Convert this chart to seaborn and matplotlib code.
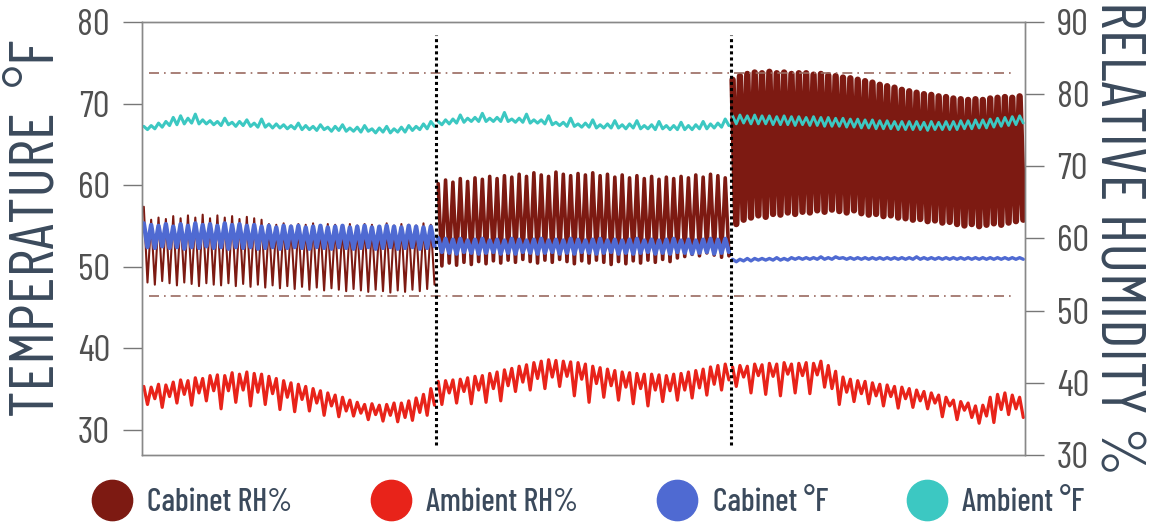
import numpy as np
import pandas as pd
import seaborn as sns
import matplotlib.pyplot as plt
from matplotlib.lines import Line2D

# three test periods, each read as 40 swing cycles (upper / lower value per cycle)
n_per_section = 40

# Cabinet RH %  (right axis)
cab_rh_hi = [64.4, 62.6, 62.9, 62.7, 63.1, 62.8, 63.2, 62.9, 63.3, 62.8,
             63.2, 62.9, 63.1, 62.7, 63.0, 62.8, 62.6, 62.0, 61.9, 62.1,
             61.8, 62.0, 61.9, 62.1, 61.8, 62.0, 61.9, 61.7, 62.0, 61.8,
             62.0, 61.9, 61.7, 62.1, 61.8, 62.0, 61.9, 61.8, 62.1, 61.9,
             67.6, 68.1, 67.8, 68.3, 67.9, 68.4, 68.2, 68.6, 68.3, 68.7,
             68.5, 68.9, 68.6, 69.1, 68.8, 68.6, 69.2, 68.9, 68.7, 69.0,
             68.8, 69.1, 68.7, 68.9, 68.5, 68.8, 68.4, 68.7, 68.3, 68.6,
             68.2, 68.5, 68.3, 68.6, 68.4, 68.8, 68.5, 68.9, 68.7, 68.4,
             82.0, 82.5, 82.8, 83.0, 82.9, 83.1, 82.9, 83.0, 82.8, 82.9,
             82.9, 82.7, 82.8, 82.6, 82.5, 82.3, 82.2, 82.0, 81.8, 81.6,
             81.3, 81.1, 80.9, 80.6, 80.4, 80.2, 80.0, 79.9, 79.7, 79.6,
             79.4, 79.3, 79.2, 79.3, 79.2, 79.4, 79.5, 79.6, 79.5, 79.7]
cab_rh_lo = [53.9, 53.6, 54.1, 53.8, 53.5, 53.9, 53.7, 53.4, 53.8, 53.6,
             53.5, 53.8, 53.4, 53.7, 53.3, 53.6, 53.2, 53.5, 53.1, 53.4,
             53.0, 53.3, 52.9, 53.2, 52.8, 53.1, 52.9, 52.7, 53.0, 52.8,
             52.6, 52.9, 52.7, 52.5, 52.8, 52.6, 52.9, 52.7, 53.0, 53.6,
             56.2, 56.6, 56.3, 56.7, 56.4, 56.8, 56.5, 56.9, 56.6, 57.0,
             56.7, 57.1, 56.8, 56.6, 57.0, 56.7, 57.1, 56.8, 56.5, 56.9,
             56.6, 57.0, 56.7, 56.4, 56.8, 56.5, 56.9, 56.6, 57.0, 56.7,
             57.1, 56.8, 57.3, 57.5, 57.8, 57.6, 58.0, 57.7, 57.4, 57.6,
             62.0, 62.6, 62.9, 63.2, 63.0, 63.4, 63.3, 63.6, 63.4, 63.7,
             63.6, 63.9, 63.7, 64.0, 63.8, 63.6, 63.9, 63.5, 63.3, 63.4,
             63.1, 63.2, 62.9, 62.8, 62.6, 62.7, 62.4, 62.5, 62.2, 62.3,
             62.0, 61.8, 62.0, 61.7, 61.9, 62.1, 61.9, 62.2, 62.4, 62.6]

# Ambient RH %  (right axis)
amb_rh_hi = [39.5, 39.4, 39.8, 39.7, 40.1, 40.4, 40.3, 40.7, 40.6, 41.0,
             41.1, 41.0, 41.4, 41.2, 41.5, 41.3, 41.2, 40.9, 40.6, 40.3,
             40.0, 39.8, 39.5, 39.2, 38.9, 38.6, 38.3, 38.0, 37.6, 37.3,
             37.0, 37.1, 36.9, 37.0, 37.2, 37.2, 37.5, 37.9, 38.4, 39.2,
             40.2, 40.3, 40.4, 40.5, 40.7, 40.9, 41.0, 41.3, 41.5, 41.8,
             42.0, 42.3, 42.5, 42.8, 43.0, 43.2, 43.1, 43.0, 42.9, 42.8,
             42.6, 42.3, 42.1, 41.9, 41.7, 41.5, 41.4, 41.3, 41.2, 41.2,
             41.1, 41.0, 41.2, 41.3, 41.5, 41.7, 41.9, 42.2, 42.4, 42.6,
             42.2, 42.4, 42.3, 42.6, 42.5, 42.7, 42.6, 42.8, 42.6, 42.7,
             42.8, 42.7, 43.0, 42.4, 41.6, 40.8, 40.5, 40.3, 40.2, 40.0,
             39.8, 39.7, 39.5, 39.4, 39.2, 39.0, 38.8, 38.6, 38.3, 38.0,
             37.6, 37.4, 37.2, 36.8, 36.9, 38.0, 38.4, 38.6, 38.3, 38.0]
amb_rh_lo = [37.0, 37.8, 36.6, 38.1, 37.2, 38.4, 36.9, 38.6, 37.5, 38.9,
             36.4, 38.9, 37.3, 39.0, 36.8, 38.7, 37.0, 38.5, 36.3, 38.0,
             36.0, 37.7, 36.1, 37.2, 35.5, 36.8, 35.3, 36.1, 35.4, 35.8,
             34.9, 35.6, 34.7, 35.5, 34.6, 35.2, 34.8, 35.9, 35.5, 36.9,
             37.0, 38.6, 37.2, 38.8, 37.1, 39.0, 37.3, 39.2, 37.5, 39.6,
             38.8, 40.1, 39.0, 40.6, 39.2, 40.8, 39.5, 40.9, 38.2, 40.5,
             37.3, 39.9, 38.0, 39.6, 37.6, 39.4, 37.1, 39.2, 36.8, 39.0,
             37.4, 38.9, 37.6, 39.0, 37.9, 39.3, 38.3, 39.8, 39.0, 40.4,
             39.5, 40.8, 38.6, 41.0, 38.4, 40.9, 38.2, 41.2, 38.6, 41.0,
             38.5, 41.1, 39.4, 39.2, 37.0, 38.7, 37.4, 38.5, 37.1, 38.2,
             36.8, 38.1, 36.5, 37.8, 36.6, 37.5, 36.4, 37.2, 35.3, 36.8,
             34.9, 36.2, 35.2, 34.4, 35.4, 34.5, 36.3, 35.6, 36.4, 35.2]

# Cabinet deg F  (left axis)
cab_f_hi = [55.3, 55.1, 55.0, 55.2, 54.9, 55.2, 55.0, 55.3, 55.1, 55.2,
            55.0, 55.3, 55.1, 55.2, 55.0, 55.1, 54.9, 55.0, 54.8, 55.0,
            54.9, 55.0, 54.8, 54.9, 55.0, 54.8, 54.9, 55.0, 54.8, 54.9,
            55.0, 54.8, 54.9, 55.0, 54.9, 54.8, 55.0, 54.9, 54.8, 54.9,
            53.5, 53.4, 53.3, 53.4, 53.2, 53.3, 53.4, 53.2, 53.3, 53.2,
            53.4, 53.3, 53.2, 53.3, 53.4, 53.2, 53.3, 53.2, 53.4, 53.3,
            53.2, 53.3, 53.4, 53.2, 53.3, 53.2, 53.3, 53.4, 53.2, 53.3,
            53.2, 53.3, 53.4, 53.2, 53.3, 53.2, 53.3, 53.4, 53.3, 53.4,
            50.9, 50.9, 51.0, 51.0, 51.0, 51.0, 51.1, 51.0, 51.1, 51.1,
            51.1, 51.1, 51.2, 51.1, 51.2, 51.1, 51.1, 51.1, 51.1, 51.1,
            51.1, 51.1, 51.1, 51.1, 51.1, 51.2, 51.1, 51.1, 51.1, 51.1,
            51.1, 51.1, 51.1, 51.1, 51.1, 51.1, 51.1, 51.1, 51.1, 51.1]
cab_f_lo = [52.4, 52.3, 52.5, 52.3, 52.4, 52.2, 52.4, 52.3, 52.5, 52.3,
            52.4, 52.2, 52.4, 52.3, 52.4, 52.2, 52.3, 52.4, 52.2, 52.3,
            52.4, 52.3, 52.2, 52.4, 52.3, 52.2, 52.4, 52.3, 52.2, 52.3,
            52.4, 52.2, 52.3, 52.4, 52.2, 52.3, 52.4, 52.2, 52.3, 52.5,
            51.8, 51.7, 51.6, 51.8, 51.7, 51.6, 51.7, 51.8, 51.6, 51.7,
            51.6, 51.8, 51.7, 51.6, 51.7, 51.8, 51.6, 51.7, 51.6, 51.8,
            51.7, 51.6, 51.7, 51.8, 51.6, 51.7, 51.6, 51.7, 51.8, 51.6,
            51.7, 51.6, 51.8, 51.7, 51.6, 51.7, 51.8, 51.6, 51.7, 51.8,
            50.6, 50.7, 50.7, 50.8, 50.8, 50.8, 50.8, 50.8, 50.9, 50.9,
            50.9, 50.9, 50.9, 50.9, 51.0, 50.9, 50.9, 50.9, 50.9, 50.9,
            50.9, 50.9, 50.9, 50.9, 50.9, 50.9, 50.9, 50.9, 50.9, 50.9,
            50.9, 50.9, 50.9, 50.9, 50.9, 50.9, 50.9, 50.9, 50.9, 50.9]

# Ambient deg F  (left axis)
amb_f_hi = [67.2, 67.3, 67.6, 67.8, 68.3, 68.5, 68.2, 68.7, 68.0, 67.9,
            67.8, 68.2, 67.7, 67.8, 68.0, 67.6, 68.1, 67.5, 67.5, 67.4,
            67.3, 67.6, 67.3, 67.2, 67.4, 67.1, 67.2, 67.4, 67.0, 67.1,
            67.3, 66.9, 67.0, 67.2, 66.9, 67.1, 67.3, 67.2, 67.5, 67.8,
            67.8, 68.0, 68.1, 68.6, 68.2, 68.3, 68.8, 68.2, 68.3, 68.9,
            68.1, 68.2, 68.7, 68.0, 68.0, 68.5, 67.7, 67.7, 68.2, 67.5,
            67.6, 68.0, 67.4, 67.5, 67.9, 67.4, 67.5, 67.9, 67.3, 67.4,
            67.8, 67.3, 67.3, 67.7, 67.3, 67.4, 67.8, 67.5, 67.6, 68.1,
            68.5, 68.6, 68.5, 68.6, 68.5, 68.5, 68.4, 68.5, 68.4, 68.4,
            68.3, 68.4, 68.3, 68.3, 68.2, 68.2, 68.1, 68.1, 68.0, 68.0,
            67.9, 67.9, 67.8, 67.8, 67.8, 67.8, 67.7, 67.8, 67.7, 67.8,
            67.8, 67.9, 67.9, 68.0, 68.0, 68.1, 68.2, 68.3, 68.4, 68.5]
amb_f_lo = [66.8, 66.9, 67.1, 67.3, 67.4, 67.5, 67.6, 67.5, 67.5, 67.4,
            67.3, 67.4, 67.2, 67.3, 67.2, 67.1, 67.1, 67.0, 67.0, 66.9,
            66.9, 66.8, 66.8, 66.7, 66.8, 66.6, 66.7, 66.6, 66.6, 66.5,
            66.6, 66.4, 66.5, 66.4, 66.5, 66.5, 66.7, 66.8, 66.9, 67.2,
            67.4, 67.5, 67.6, 67.7, 67.8, 67.8, 67.8, 67.8, 67.8, 67.8,
            67.7, 67.7, 67.6, 67.6, 67.5, 67.4, 67.3, 67.2, 67.2, 67.1,
            67.1, 67.0, 67.0, 67.0, 67.0, 66.9, 67.0, 66.9, 66.9, 66.8,
            66.9, 66.8, 66.8, 66.8, 66.8, 66.9, 66.9, 67.0, 67.1, 67.3,
            67.5, 67.6, 67.5, 67.5, 67.5, 67.4, 67.4, 67.4, 67.3, 67.4,
            67.3, 67.3, 67.2, 67.2, 67.2, 67.1, 67.1, 67.0, 67.0, 66.9,
            66.9, 66.9, 66.8, 66.8, 66.8, 66.8, 66.7, 66.8, 66.8, 66.8,
            66.8, 66.9, 66.9, 67.0, 67.0, 67.1, 67.2, 67.3, 67.4, 67.6]

# RH limits drawn as dash-dot guide lines
rh_limits = [83.0, 52.0]

labels = ['Cabinet RH%', 'Ambient RH%', 'Cabinet °F', 'Ambient °F']
colors = ['#7d1a12', '#e8231a', '#4f6ad2', '#3cc8c2']


def swing(hi, lo):
    # each cycle: upper reading then lower reading
    return np.column_stack((hi, lo)).ravel()


n = len(cab_rh_hi) * 2
t = np.arange(n)
sec = t // (2 * n_per_section) + 1
rh = pd.DataFrame({'t': t, 'sec': sec, 'cab': swing(cab_rh_hi, cab_rh_lo), 'amb': swing(amb_rh_hi, amb_rh_lo)})
temp = pd.DataFrame({'t': t, 'sec': sec, 'cab': swing(cab_f_hi, cab_f_lo), 'amb': swing(amb_f_hi, amb_f_lo)})

sns.set_style('white')
plt.rcParams['font.family'] = ['Barlow Condensed', 'Roboto Condensed', 'DejaVu Sans']

fig = plt.figure(figsize=(11.56, 5.26), dpi=100)
ax = fig.add_axes([0.1228, 0.135, 0.764, 0.8232])
ax2 = ax.twinx()
ax.set_zorder(ax2.get_zorder() + 1)
ax.patch.set_visible(False)


def draw(df, col, axis, color, widths):
    sns.lineplot(data=df, x='t', y=col, hue='sec', size='sec', ax=axis,
                 palette={1: color, 2: color, 3: color},
                 sizes={1: widths[0], 2: widths[1], 3: widths[2]},
                 sort=False, legend=False)


draw(rh, 'cab', ax2, colors[0], (1.5, 2.6, 4.6))
draw(rh, 'amb', ax2, colors[1], (2.3, 2.3, 2.3))
draw(temp, 'cab', ax, colors[2], (3.2, 3.2, 2.4))
draw(temp, 'amb', ax, colors[3], (2.2, 2.2, 2.0))

for v in rh_limits:
    ax2.axhline(v, xmin=0.008, xmax=0.985, color='#9a6a60', lw=1.2, ls=(0, (6, 3, 1, 3)))
for s in [1, 2]:
    ax.axvline(2 * n_per_section * s - 0.5, ymin=0.023, ymax=0.97, color='black', lw=2.2, ls=(0, (1, 1)))

ax.set_xlim(-0.5, n - 0.5)
ax.set_ylim(26.9, 80)
ax2.set_ylim(30, 90)
ax.set_yticks([30, 40, 50, 60, 70, 80])
ax2.set_yticks([30, 40, 50, 60, 70, 80, 90])
ax.set_xticks([])
ax.set_xlabel('')
ax2.set_xlabel('')

tick_kw = dict(labelsize=27, labelcolor='#505050', color='#777777', length=14, width=1, direction='out', pad=9)
ax.tick_params(axis='y', left=True, **tick_kw)
ax2.tick_params(axis='y', right=True, **tick_kw)
for a in (ax, ax2):
    for sp in a.spines.values():
        sp.set_color('#888888')
        sp.set_linewidth(1.0)

ax.set_ylabel('TEMPERATURE  °F', fontsize=45, color='#3b4a5c', va='center')
ax.yaxis.set_label_coords(-0.118, 0.524)
ax2.set_ylabel('RELATIVE HUMIDITY %', fontsize=45, color='#3b4a5c', rotation=270, va='center')
ax2.yaxis.set_label_coords(1.104, 0.5)

handles = [Line2D([], [], ls='', marker='o', markersize=29, color=c) for c in colors]
fig.legend(handles, labels, loc='center', bbox_to_anchor=(0.509, 0.045), ncol=4, frameon=False,
           prop={'size': 23, 'weight': 500}, labelcolor='#3b4a5c', handletextpad=0.5,
           columnspacing=2.5, handlelength=1.2)

plt.savefig('out.png', dpi=100)
